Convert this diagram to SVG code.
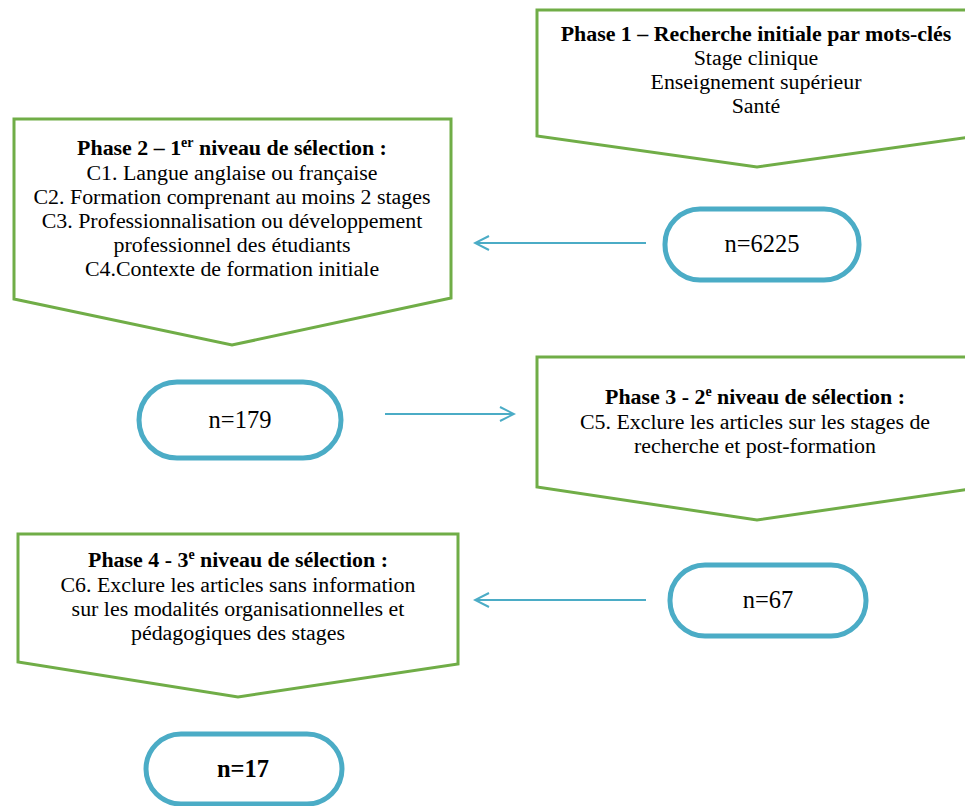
<svg xmlns="http://www.w3.org/2000/svg" width="965" height="806" viewBox="0 0 965 806">
<style>
.phase{fill:#fff;stroke:#70AD47;stroke-width:3;stroke-linejoin:miter}
.pill{fill:#fff;stroke:#4BACC6;stroke-width:5}
.conn{stroke:#4BACC6;stroke-width:2;fill:none}
.t{font-size:21.9px}
.b{font-weight:bold}
.n{font-size:24.5px}
</style>
<defs>
<marker id="arr" viewBox="0 0 20 20" refX="18" refY="10" markerWidth="20" markerHeight="20" markerUnits="userSpaceOnUse" orient="auto">
<path d="M4,3 L18,10 L4,17" fill="none" stroke="#4BACC6" stroke-width="2"/>
</marker>
</defs>
<g font-family="'Liberation Serif', 'Times New Roman', 'DejaVu Serif', serif" fill="#000" text-anchor="middle">
<g id="phase1">
<polygon class="phase" points="537,10 977,10 977,136 757,167 537,136"/>
<text class="t b" x="756" y="41">Phase 1 – Recherche initiale par mots-clés</text>
<text class="t" x="756" y="65">Stage clinique</text>
<text class="t" x="756" y="89">Enseignement supérieur</text>
<text class="t" x="756" y="113">Santé</text>
</g>
<g id="n6225">
<rect class="pill" x="665" y="209" width="194" height="71" rx="35" ry="35"/>
<text class="n" x="762" y="252">n=6225</text>
</g>
<g id="phase2">
<polygon class="phase" points="14,119 451,119 451,298 232,345 14,299"/>
<text class="t b" x="232" y="155">Phase 2 – 1<tspan font-size="14" dy="-8">er</tspan><tspan dy="8"> niveau de sélection :</tspan></text>
<text class="t" x="232" y="180">C1. Langue anglaise ou française</text>
<text class="t" x="232" y="204">C2. Formation comprenant au moins 2 stages</text>
<text class="t" x="232" y="228">C3. Professionnalisation ou développement</text>
<text class="t" x="232" y="252">professionnel des étudiants</text>
<text class="t" x="232" y="276">C4.Contexte de formation initiale</text>
</g>
<g id="n179">
<rect class="pill" x="139" y="382" width="202" height="76" rx="38" ry="38"/>
<text class="n" x="240" y="428">n=179</text>
</g>
<g id="phase3">
<polygon class="phase" points="537,357 977,357 977,488 757,520 537,487"/>
<text class="t b" x="755" y="404">Phase 3 - 2<tspan font-size="14" dy="-8">e</tspan><tspan dy="8"> niveau de sélection :</tspan></text>
<text class="t" x="755" y="429">C5. Exclure les articles sur les stages de</text>
<text class="t" x="755" y="453">recherche et post-formation</text>
</g>
<g id="n67">
<rect class="pill" x="670" y="565" width="196" height="71" rx="35" ry="35"/>
<text class="n" x="768" y="608">n=67</text>
</g>
<g id="phase4">
<polygon class="phase" points="18,534 458,534 458,664 238,697 18,662"/>
<text class="t b" x="238" y="567">Phase 4 - 3<tspan font-size="14" dy="-8">e</tspan><tspan dy="8"> niveau de sélection :</tspan></text>
<text class="t" x="238" y="592">C6. Exclure les articles sans information</text>
<text class="t" x="238" y="616">sur les modalités organisationnelles et</text>
<text class="t" x="238" y="640">pédagogiques des stages</text>
</g>
<g id="n17">
<rect class="pill" x="146" y="734" width="196" height="70" rx="35" ry="35"/>
<text class="n b" x="243" y="777">n=17</text>
</g>
<g id="connectors">
<line class="conn" x1="646" y1="243" x2="475" y2="243" marker-end="url(#arr)"/>
<line class="conn" x1="385" y1="414" x2="514" y2="414" marker-end="url(#arr)"/>
<line class="conn" x1="646" y1="600" x2="475" y2="600" marker-end="url(#arr)"/>
</g>
</g>
</svg>
